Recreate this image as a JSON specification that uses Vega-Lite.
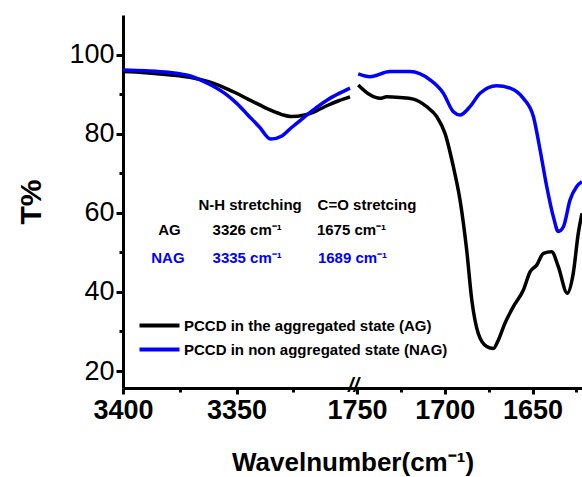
{
  "$schema": "https://vega.github.io/schema/vega-lite/v6.json",
  "width": 459,
  "height": 373,
  "autosize": "none",
  "padding": {"left": 123, "top": 15, "right": 0, "bottom": 89},
  "background": "white",
  "config": {
    "view": {"stroke": null},
    "font": "Liberation Sans",
    "axis": {"grid": false, "domainColor": "black", "domainWidth": 3, "tickColor": "black", "tickWidth": 3, "labelColor": "black", "titleColor": "black", "labelFont": "Liberation Sans", "titleFont": "Liberation Sans"}
  },
  "datasets": {
    "spectra": [
      {"wn": 3400, "T": 95.8, "series": "AG", "seg": "L"},
      {"wn": 3390, "T": 95.5, "series": "AG", "seg": "L"},
      {"wn": 3380, "T": 95.0, "series": "AG", "seg": "L"},
      {"wn": 3370, "T": 94.3, "series": "AG", "seg": "L"},
      {"wn": 3366, "T": 93.8, "series": "AG", "seg": "L"},
      {"wn": 3360, "T": 92.8, "series": "AG", "seg": "L"},
      {"wn": 3355, "T": 91.6, "series": "AG", "seg": "L"},
      {"wn": 3350, "T": 90.3, "series": "AG", "seg": "L"},
      {"wn": 3345, "T": 88.8, "series": "AG", "seg": "L"},
      {"wn": 3340, "T": 87.4, "series": "AG", "seg": "L"},
      {"wn": 3335, "T": 86.0, "series": "AG", "seg": "L"},
      {"wn": 3330, "T": 84.9, "series": "AG", "seg": "L"},
      {"wn": 3326, "T": 84.4, "series": "AG", "seg": "L"},
      {"wn": 3320, "T": 84.8, "series": "AG", "seg": "L"},
      {"wn": 3315, "T": 85.8, "series": "AG", "seg": "L"},
      {"wn": 3310, "T": 87.2, "series": "AG", "seg": "L"},
      {"wn": 3305, "T": 88.4, "series": "AG", "seg": "L"},
      {"wn": 3300, "T": 89.4, "series": "AG", "seg": "L"},
      {"wn": 3400, "T": 96.2, "series": "NAG", "seg": "L"},
      {"wn": 3390, "T": 96.0, "series": "NAG", "seg": "L"},
      {"wn": 3380, "T": 95.6, "series": "NAG", "seg": "L"},
      {"wn": 3370, "T": 94.6, "series": "NAG", "seg": "L"},
      {"wn": 3366, "T": 93.7, "series": "NAG", "seg": "L"},
      {"wn": 3360, "T": 92.0, "series": "NAG", "seg": "L"},
      {"wn": 3355, "T": 90.2, "series": "NAG", "seg": "L"},
      {"wn": 3350, "T": 87.8, "series": "NAG", "seg": "L"},
      {"wn": 3345, "T": 84.8, "series": "NAG", "seg": "L"},
      {"wn": 3340, "T": 81.8, "series": "NAG", "seg": "L"},
      {"wn": 3335, "T": 78.7, "series": "NAG", "seg": "L"},
      {"wn": 3330, "T": 79.5, "series": "NAG", "seg": "L"},
      {"wn": 3326, "T": 81.5, "series": "NAG", "seg": "L"},
      {"wn": 3320, "T": 84.3, "series": "NAG", "seg": "L"},
      {"wn": 3315, "T": 86.6, "series": "NAG", "seg": "L"},
      {"wn": 3310, "T": 88.6, "series": "NAG", "seg": "L"},
      {"wn": 3305, "T": 90.2, "series": "NAG", "seg": "L"},
      {"wn": 3300, "T": 91.6, "series": "NAG", "seg": "L"},
      {"wn": 1749.3, "T": 92.4, "series": "AG", "seg": "R"},
      {"wn": 1742.6, "T": 89.9, "series": "AG", "seg": "R"},
      {"wn": 1736.9, "T": 89.0, "series": "AG", "seg": "R"},
      {"wn": 1733.1, "T": 89.4, "series": "AG", "seg": "R"},
      {"wn": 1725.5, "T": 89.2, "series": "AG", "seg": "R"},
      {"wn": 1717.9, "T": 88.8, "series": "AG", "seg": "R"},
      {"wn": 1710.3, "T": 86.9, "series": "AG", "seg": "R"},
      {"wn": 1704.6, "T": 84.4, "series": "AG", "seg": "R"},
      {"wn": 1699.9, "T": 80.2, "series": "AG", "seg": "R"},
      {"wn": 1695.1, "T": 71.7, "series": "AG", "seg": "R"},
      {"wn": 1691.3, "T": 63.3, "series": "AG", "seg": "R"},
      {"wn": 1687.5, "T": 50.6, "series": "AG", "seg": "R"},
      {"wn": 1684.6, "T": 38.0, "series": "AG", "seg": "R"},
      {"wn": 1680.9, "T": 29.5, "series": "AG", "seg": "R"},
      {"wn": 1676.1, "T": 26.2, "series": "AG", "seg": "R"},
      {"wn": 1672.3, "T": 25.7, "series": "AG", "seg": "R"},
      {"wn": 1669.5, "T": 27.8, "series": "AG", "seg": "R"},
      {"wn": 1665.7, "T": 32.1, "series": "AG", "seg": "R"},
      {"wn": 1660.9, "T": 36.3, "series": "AG", "seg": "R"},
      {"wn": 1655.2, "T": 40.5, "series": "AG", "seg": "R"},
      {"wn": 1651.4, "T": 45.1, "series": "AG", "seg": "R"},
      {"wn": 1647.6, "T": 46.8, "series": "AG", "seg": "R"},
      {"wn": 1643.8, "T": 49.8, "series": "AG", "seg": "R"},
      {"wn": 1639.1, "T": 50.2, "series": "AG", "seg": "R"},
      {"wn": 1635.3, "T": 46.4, "series": "AG", "seg": "R"},
      {"wn": 1630.2, "T": 39.7, "series": "AG", "seg": "R"},
      {"wn": 1626.8, "T": 44.7, "series": "AG", "seg": "R"},
      {"wn": 1623.9, "T": 54.9, "series": "AG", "seg": "R"},
      {"wn": 1621.8, "T": 59.9, "series": "AG", "seg": "R"},
      {"wn": 1749.3, "T": 95.2, "series": "NAG", "seg": "R"},
      {"wn": 1742.6, "T": 94.5, "series": "NAG", "seg": "R"},
      {"wn": 1731.2, "T": 95.8, "series": "NAG", "seg": "R"},
      {"wn": 1719.8, "T": 95.8, "series": "NAG", "seg": "R"},
      {"wn": 1708.4, "T": 93.7, "series": "NAG", "seg": "R"},
      {"wn": 1700.8, "T": 90.3, "series": "NAG", "seg": "R"},
      {"wn": 1695.1, "T": 85.6, "series": "NAG", "seg": "R"},
      {"wn": 1691.3, "T": 84.8, "series": "NAG", "seg": "R"},
      {"wn": 1685.6, "T": 86.9, "series": "NAG", "seg": "R"},
      {"wn": 1679.9, "T": 90.3, "series": "NAG", "seg": "R"},
      {"wn": 1670.4, "T": 92.2, "series": "NAG", "seg": "R"},
      {"wn": 1662.8, "T": 91.6, "series": "NAG", "seg": "R"},
      {"wn": 1655.2, "T": 89.0, "series": "NAG", "seg": "R"},
      {"wn": 1649.5, "T": 84.4, "series": "NAG", "seg": "R"},
      {"wn": 1645.7, "T": 76.0, "series": "NAG", "seg": "R"},
      {"wn": 1641.9, "T": 66.7, "series": "NAG", "seg": "R"},
      {"wn": 1638.1, "T": 59.0, "series": "NAG", "seg": "R"},
      {"wn": 1635.3, "T": 55.3, "series": "NAG", "seg": "R"},
      {"wn": 1632.4, "T": 56.5, "series": "NAG", "seg": "R"},
      {"wn": 1628.6, "T": 63.3, "series": "NAG", "seg": "R"},
      {"wn": 1624.8, "T": 66.7, "series": "NAG", "seg": "R"},
      {"wn": 1621.8, "T": 67.9, "series": "NAG", "seg": "R"}
    ],
    "notes": [
      {"wn": 3344.0, "T": 62.0, "label": "N-H stretching", "series": "AG"},
      {"wn": 1744.3, "T": 62.0, "label": "C=O stretcing", "series": "AG"},
      {"wn": 3379.5, "T": 55.7, "label": "AG", "series": "AG"},
      {"wn": 3345.3, "T": 55.7, "label": "3326 cm⁻¹", "series": "AG"},
      {"wn": 2968, "T": 55.7, "label": "1675 cm⁻¹", "series": "AG"},
      {"wn": 3380.2, "T": 48.6, "label": "NAG", "series": "NAG"},
      {"wn": 3345.3, "T": 48.6, "label": "3335 cm⁻¹", "series": "NAG"},
      {"wn": 2746, "T": 48.6, "label": "1689 cm⁻¹", "series": "NAG"}
    ],
    "brk": [{"wn": 2525, "T": 16.1, "label": "//"}]
  },
  "layer": [
    {
      "data": {"name": "spectra"},
      "mark": {"type": "line", "strokeWidth": 3.5, "interpolate": "monotone"},
      "encoding": {
        "x": {
          "field": "wn", "type": "quantitative",
          "scale": {"domain": [3400, 3300, 1750, 1621.8], "range": [0, 227, 234, 459], "nice": false, "zero": false},
          "axis": {
            "title": "Wavelnumber(cm⁻¹)",
            "values": [3400, 3375, 3350, 3325, 1750, 1725, 1700, 1675, 1650, 1625],
            "labelExpr": "datum.value % 50 == 0 ? format(datum.value, 'd') : ''",
            "labelFontSize": 27, "labelFontWeight": "bold", "labelPadding": 3,
            "tickSize": {"condition": {"test": "datum.value % 50 == 0", "value": 6}, "value": 4},
            "titleFontSize": 26, "titleFontWeight": "bold", "titlePadding": 26,
            "labelOverlap": false, "labelFlush": false
          }
        },
        "y": {
          "field": "T", "type": "quantitative",
          "scale": {"domain": [15.7, 110.1], "nice": false, "zero": false},
          "axis": {
            "title": "T%",
            "values": [20, 30, 40, 50, 60, 70, 80, 90, 100],
            "labelExpr": "datum.value % 20 == 0 ? datum.label : ''",
            "labelFontSize": 27, "labelFontWeight": "normal", "labelPadding": 2,
            "tickSize": {"condition": {"test": "datum.value % 20 == 0", "value": 7}, "value": 4},
            "titleFontSize": 30, "titleFontWeight": "bold", "titlePadding": 22,
            "labelOverlap": false
          }
        },
        "color": {
          "field": "series", "type": "nominal",
          "scale": {"domain": ["AG", "NAG"], "range": ["#000000", "#0000ff"]},
          "legend": {
            "title": null,
            "orient": "none", "legendX": 29, "legendY": 303,
            "symbolType": "M-4,0H4", "symbolSize": 100, "symbolStrokeWidth": 4,
            "labelFontSize": 15, "labelFontWeight": "bold", "labelColor": "black",
            "labelExpr": "datum.value == 'AG' ? 'PCCD in the aggregated state (AG)' : 'PCCD in non aggregated state (NAG)'",
            "rowPadding": 7, "labelOffset": 17, "labelLimit": 400
          }
        },
        "detail": {"field": "seg", "type": "nominal"}
      }
    },
    {
      "data": {"name": "notes"},
      "mark": {"type": "text", "fontSize": 15, "fontWeight": "bold", "align": "center", "baseline": "middle"},
      "encoding": {
        "x": {"field": "wn", "type": "quantitative"},
        "y": {"field": "T", "type": "quantitative"},
        "text": {"field": "label"},
        "color": {"field": "series", "type": "nominal", "legend": null}
      }
    },
    {
      "data": {"name": "brk"},
      "mark": {"type": "text", "fontSize": 20, "fontWeight": "bold", "fontStyle": "italic", "align": "center", "baseline": "middle", "color": "black"},
      "encoding": {
        "x": {"field": "wn", "type": "quantitative"},
        "y": {"field": "T", "type": "quantitative"},
        "text": {"field": "label"}
      }
    }
  ]
}
